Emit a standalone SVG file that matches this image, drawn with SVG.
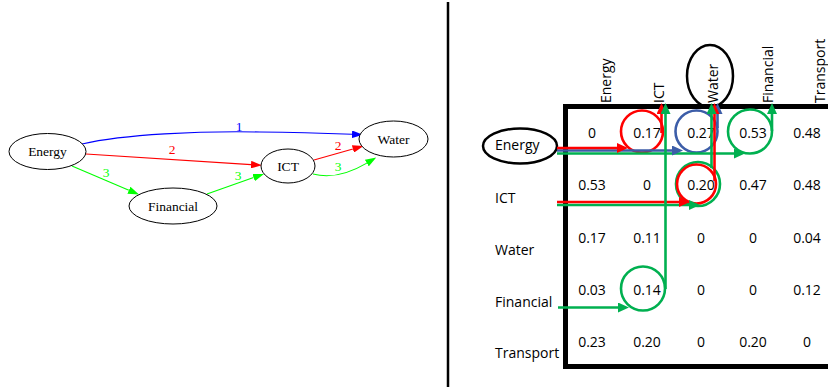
<svg xmlns="http://www.w3.org/2000/svg" width="828" height="387" viewBox="0 0 828 387">
<style>
.gn{fill:#fff;stroke:#000;stroke-width:1}
.gt{font-family:"Liberation Serif","Times New Roman",serif;font-size:13.5px;text-anchor:middle;fill:#000}
.gl{font-family:"Liberation Serif","Times New Roman",serif;font-size:13.5px;text-anchor:middle}
.e{fill:none;stroke-width:1.1}
.t{font-family:"Open Sans","Liberation Sans",Arial,sans-serif;font-size:14px;fill:#000}
.v{text-anchor:middle}
.ln{fill:none;stroke-width:2.6}
.cr{fill:none;stroke-width:2.6}
.frame{fill:none;stroke:#000;stroke-width:5}
.ring{fill:none;stroke:#000;stroke-width:2.5}
</style>
<defs>
<marker id="aB" markerUnits="userSpaceOnUse" viewBox="0 0 11 7.6" markerWidth="11" markerHeight="7.6" refX="0" refY="3.8" orient="auto"><path d="M0,0L11,3.8L0,7.6Z" fill="#0000FF"/></marker>
<marker id="aR" markerUnits="userSpaceOnUse" viewBox="0 0 11 7.6" markerWidth="11" markerHeight="7.6" refX="0" refY="3.8" orient="auto"><path d="M0,0L11,3.8L0,7.6Z" fill="#FF0000"/></marker>
<marker id="aG" markerUnits="userSpaceOnUse" viewBox="0 0 11 7.6" markerWidth="11" markerHeight="7.6" refX="0" refY="3.8" orient="auto"><path d="M0,0L11,3.8L0,7.6Z" fill="#00FF00"/></marker>
<marker id="mR" markerUnits="userSpaceOnUse" viewBox="0 0 11 10" markerWidth="11" markerHeight="10" refX="0" refY="5" orient="auto"><path d="M0,0L11,5L0,10Z" fill="#FF0000"/></marker>
<marker id="mG" markerUnits="userSpaceOnUse" viewBox="0 0 11 10" markerWidth="11" markerHeight="10" refX="0" refY="5" orient="auto"><path d="M0,0L11,5L0,10Z" fill="#00B050"/></marker>
<marker id="mB" markerUnits="userSpaceOnUse" viewBox="0 0 11 10" markerWidth="11" markerHeight="10" refX="0" refY="5" orient="auto"><path d="M0,0L11,5L0,10Z" fill="#3C5DA8"/></marker>
</defs>
<rect width="828" height="387" fill="#fff"/>

<!-- left graph -->
<g id="graph-edges">
<path class="e" stroke="#0000FF" d="M82,144 C125,134 200,131 260,132 C300,132.5 330,133.5 352,134.3" marker-end="url(#aB)"/>
<text class="gl" fill="#0000FF" x="239" y="131">1</text>
<path class="e" stroke="#FF0000" d="M86,154 L251,164.6" marker-end="url(#aR)"/>
<text class="gl" fill="#FF0000" x="172" y="154">2</text>
<path class="e" stroke="#00FF00" d="M72,166 L128.9,190.2" marker-end="url(#aG)"/>
<text class="gl" fill="#00FF00" x="106" y="177">3</text>
<path class="e" stroke="#00FF00" d="M207,194 L253.6,177.6" marker-end="url(#aG)"/>
<text class="gl" fill="#00FF00" x="238" y="180">3</text>
<path class="e" stroke="#FF0000" d="M314,160 L352.9,149" marker-end="url(#aR)"/>
<text class="gl" fill="#FF0000" x="338" y="150">2</text>
<path class="e" stroke="#00FF00" d="M313,174 C328,178 345,176 366.8,163.1" marker-end="url(#aG)"/>
<text class="gl" fill="#00FF00" x="338" y="171">3</text>
</g>
<g id="g-energy"><ellipse class="gn" cx="47.5" cy="151.5" rx="38.5" ry="18"/><text class="gt" x="47.5" y="156">Energy</text></g>
<g id="g-water"><ellipse class="gn" cx="393.5" cy="139" rx="34.5" ry="18"/><text class="gt" x="393.5" y="143.5">Water</text></g>
<g id="g-ict"><ellipse class="gn" cx="288" cy="166" rx="27" ry="17"/><text class="gt" x="288" y="170.5">ICT</text></g>
<g id="g-financial"><ellipse class="gn" cx="173" cy="206" rx="44" ry="18"/><text class="gt" x="173" y="210.5">Financial</text></g>

<!-- divider -->
<line x1="448" y1="2" x2="448" y2="387" stroke="#000" stroke-width="2.5"/>

<!-- matrix -->
<g id="matrix">
<path class="frame" d="M563,106.5H828M565.5,104V369M563,366.5H828"/>
<g class="t">
<text transform="translate(611,103) rotate(-90)">Energy</text>
<text transform="translate(664,103) rotate(-90)">ICT</text>
<text transform="translate(718,103) rotate(-90)">Water</text>
<text transform="translate(773,103) rotate(-90)">Financial</text>
<text transform="translate(825,103) rotate(-90)">Transport</text>
<text x="495" y="149.5">Energy</text>
<text x="495" y="203">ICT</text>
<text x="495" y="255">Water</text>
<text x="495" y="307">Financial</text>
<text x="495" y="358">Transport</text>
</g>
<g class="t v">
<text x="592" y="138">0</text><text x="647" y="138">0.17</text><text x="701" y="138">0.27</text><text x="753" y="138">0.53</text><text x="807" y="138">0.48</text>
<text x="592" y="190">0.53</text><text x="647" y="190">0</text><text x="701" y="190">0.20</text><text x="753" y="190">0.47</text><text x="807" y="190">0.48</text>
<text x="592" y="243">0.17</text><text x="647" y="243">0.11</text><text x="701" y="243">0</text><text x="753" y="243">0</text><text x="807" y="243">0.04</text>
<text x="592" y="295">0.03</text><text x="647" y="295">0.14</text><text x="701" y="295">0</text><text x="753" y="295">0</text><text x="807" y="295">0.12</text>
<text x="592" y="347">0.23</text><text x="647" y="347">0.20</text><text x="701" y="347">0</text><text x="753" y="347">0.20</text><text x="807" y="347">0</text>
</g>
</g>
<g id="row-energy"><ellipse class="ring" cx="520" cy="146" rx="37" ry="17.5"/></g>
<g id="col-water"><ellipse class="ring" cx="710" cy="76" rx="23" ry="31"/></g>

<g id="paths">
<circle class="cr" stroke="#FF0000" cx="642" cy="131.5" r="21"/>
<circle class="cr" stroke="#3C5DA8" cx="696.5" cy="131.5" r="21"/>
<circle class="cr" stroke="#00B050" cx="750" cy="131.5" r="22"/>
<circle class="cr" stroke="#00B050" cx="698" cy="184" r="22"/>
<circle class="cr" stroke="#FF0000" cx="696.5" cy="184" r="19.5"/>
<circle class="cr" stroke="#00B050" cx="643" cy="288.5" r="22"/>
<path class="ln" stroke="#00B050" d="M557,153.5H734" marker-end="url(#mG)"/>
<path class="ln" stroke="#3C5DA8" d="M557,150.5H672" marker-end="url(#mB)"/>
<path class="ln" stroke="#FF0000" d="M557,148H617" marker-end="url(#mR)"/>
<path class="ln" stroke="#00B050" d="M557,205H689" marker-end="url(#mG)"/>
<path class="ln" stroke="#FF0000" d="M557,202H679" marker-end="url(#mR)"/>
<path class="ln" stroke="#00B050" d="M558,307.5H618" marker-end="url(#mG)"/>
<path class="ln" stroke="#FF0000" d="M661.5,133V114" marker-end="url(#mR)"/>
<path class="ln" stroke="#00B050" d="M665.5,289V114" marker-end="url(#mG)"/>
<path class="ln" stroke="#3C5DA8" d="M717.5,128V114" marker-end="url(#mB)"/>
<path class="ln" stroke="#FF0000" d="M714.5,181V114" marker-end="url(#mR)"/>
<path class="ln" stroke="#00B050" d="M711.5,168V114" marker-end="url(#mG)"/>
<path class="ln" stroke="#00B050" d="M772,131V114" marker-end="url(#mG)"/>
</g>
</svg>
